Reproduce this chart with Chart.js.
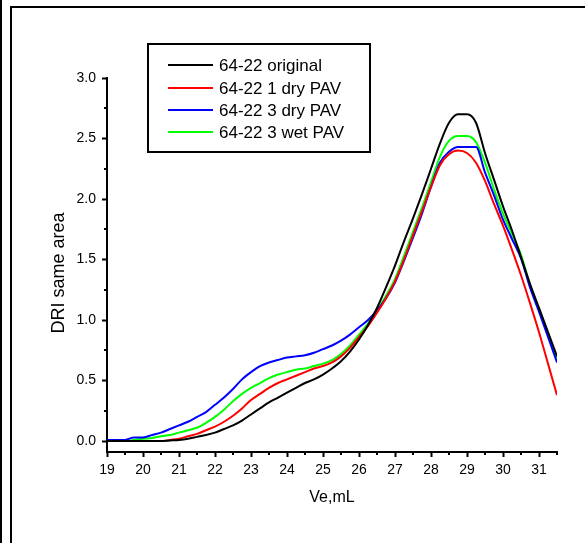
<!DOCTYPE html>
<html>
<head>
<meta charset="utf-8">
<script src="https://cdn.jsdelivr.net/npm/chart.js@4/dist/chart.umd.min.js"></script>
<style>
  html, body { margin: 0; padding: 0; background: #fff; }
  #wrap { width: 585px; height: 543px; position: relative; }
</style>
</head>
<body>
<div id="wrap"><canvas id="c" width="585" height="543"></canvas></div>
<script>
// Elution volume (mL)
const ve = [19, 19.25, 19.5, 19.75, 20, 20.25, 20.5, 20.75, 21, 21.25, 21.5, 21.75,
  22, 22.25, 22.5, 22.75, 23, 23.25, 23.5, 23.75, 24, 24.25, 24.5, 24.75,
  25, 25.25, 25.5, 25.75, 26, 26.25, 26.5, 26.75, 27, 27.25, 27.5, 27.75,
  28, 28.25, 28.5, 28.75, 29, 29.25, 29.5, 29.75, 30, 30.25, 30.5, 30.75,
  31, 31.25, 31.5];

const original = [0, 0, 0, 0, 0, 0, 0, 0.005, 0.01, 0.02, 0.035, 0.05,
  0.07, 0.1, 0.13, 0.17, 0.22, 0.27, 0.32, 0.36, 0.4, 0.44, 0.48, 0.51,
  0.55, 0.6, 0.66, 0.74, 0.84, 0.96, 1.1, 1.27, 1.45, 1.65, 1.84, 2.04,
  2.25, 2.46, 2.63, 2.7, 2.7, 2.63, 2.38, 2.16, 1.94, 1.74, 1.52, 1.3,
  1.1, 0.9, 0.7];

const dry1 = [0, 0, 0, 0, 0, 0, 0, 0.01, 0.02, 0.04, 0.06, 0.09,
  0.12, 0.16, 0.21, 0.27, 0.34, 0.39, 0.44, 0.48, 0.51, 0.54, 0.57, 0.6,
  0.62, 0.65, 0.7, 0.77, 0.86, 0.95, 1.06, 1.18, 1.32, 1.5, 1.7, 1.9,
  2.1, 2.28, 2.37, 2.4, 2.38, 2.3, 2.15, 1.96, 1.78, 1.58, 1.37, 1.14,
  0.9, 0.64, 0.38];

const dry3 = [0.01, 0.01, 0.01, 0.03, 0.03, 0.05, 0.07, 0.1, 0.13, 0.16, 0.2, 0.24,
  0.3, 0.36, 0.43, 0.51, 0.57, 0.62, 0.65, 0.67, 0.69, 0.7, 0.71, 0.73,
  0.76, 0.79, 0.83, 0.88, 0.94, 1.0, 1.08, 1.18, 1.31, 1.49, 1.68, 1.88,
  2.1, 2.3, 2.39, 2.43, 2.43, 2.43, 2.22, 2.03, 1.83, 1.67, 1.51, 1.27,
  1.07, 0.86, 0.65];

const wet3 = [0, 0, 0, 0.01, 0.02, 0.025, 0.04, 0.05, 0.07, 0.09, 0.11, 0.15,
  0.2, 0.26, 0.33, 0.39, 0.44, 0.48, 0.52, 0.55, 0.57, 0.59, 0.6, 0.62,
  0.64, 0.67, 0.72, 0.79, 0.88, 0.97, 1.08, 1.2, 1.34, 1.53, 1.73, 1.93,
  2.14, 2.35, 2.48, 2.52, 2.52, 2.47, 2.3, 2.08, 1.88, 1.71, 1.54, 1.29,
  1.09, 0.88, 0.68];

const seriesLabels = ['64-22 original', '64-22 1 dry PAV', '64-22 3 dry PAV', '64-22 3 wet PAV'];
const seriesColors = ['#000000', '#ff0000', '#0000ff', '#00ff00'];
const seriesValues = [original, dry1, dry3, wet3];

const xTicks = [19, 20, 21, 22, 23, 24, 25, 26, 27, 28, 29, 30, 31];
const yTicks = [0, 0.5, 1.0, 1.5, 2.0, 2.5, 3.0];
const yTitle = 'DRI same area';
const xTitle = 'Ve,mL';

const FONT = '"Liberation Sans", Arial, sans-serif';

const framePlugin = {
  id: 'frame',
  beforeDraw(chart) {
    const ctx = chart.ctx;
    ctx.save();
    ctx.fillStyle = '#fff';
    ctx.fillRect(0, 0, chart.width, chart.height);
    ctx.fillStyle = '#000';
    ctx.fillRect(0, 0, 2, chart.height);
    ctx.fillRect(10, 6, 2, chart.height - 6);
    ctx.fillRect(10, 6, chart.width - 10, 2);
    ctx.restore();
  }
};

const minorTicks = {
  id: 'minorTicks',
  afterDraw(chart) {
    const ctx = chart.ctx;
    const xs = chart.scales.x, ys = chart.scales.y;
    const ca = chart.chartArea;
    ctx.save();
    ctx.strokeStyle = '#000';
    ctx.lineWidth = 2;
    ctx.beginPath();
    for (let i = 0; i < xTicks.length; i++) {
      const v = xTicks[i] + 0.5;
      if (v > xs.max) break;
      const px = Math.round(xs.getPixelForValue(v));
      ctx.moveTo(px, ca.bottom);
      ctx.lineTo(px, ca.bottom + 3);
    }
    for (let i = 0; i < yTicks.length - 1; i++) {
      const v = yTicks[i] + 0.25;
      const py = Math.round(ys.getPixelForValue(v));
      ctx.moveTo(ca.left, py);
      ctx.lineTo(ca.left - 3, py);
    }
    ctx.stroke();
    // y axis title
    ctx.fillStyle = '#000';
    ctx.font = '18px ' + FONT;
    ctx.textAlign = 'center';
    ctx.textBaseline = 'middle';
    ctx.translate(59, 273);
    ctx.rotate(-Math.PI / 2);
    ctx.fillText(yTitle, 0, 0);
    ctx.restore();
  }
};

const boxLegend = {
  id: 'boxLegend',
  afterDraw(chart) {
    const ctx = chart.ctx;
    ctx.save();
    ctx.strokeStyle = '#000';
    ctx.lineWidth = 2;
    ctx.strokeRect(148, 44, 222, 108);
    const rows = [65, 88, 110, 132];
    ctx.font = '17px ' + FONT;
    ctx.textBaseline = 'middle';
    ctx.textAlign = 'left';
    chart.data.datasets.forEach((ds, i) => {
      const y = rows[i];
      ctx.strokeStyle = ds.borderColor;
      ctx.lineWidth = 2;
      ctx.beginPath();
      ctx.moveTo(168, y);
      ctx.lineTo(213, y);
      ctx.stroke();
      ctx.fillStyle = '#000';
      ctx.fillText(ds.label, 219, y + 1);
    });
    ctx.restore();
  }
};

const datasets = seriesLabels.map((label, s) => ({
  label: label,
  data: ve.map((x, i) => ({ x: x, y: seriesValues[s][i] })),
  borderColor: seriesColors[s],
  backgroundColor: seriesColors[s],
  borderWidth: 2,
  pointRadius: 0,
  fill: false,
  cubicInterpolationMode: 'monotone'
}));

new Chart(document.getElementById('c'), {
  type: 'line',
  data: { datasets: datasets },
  options: {
    responsive: false,
    animation: false,
    devicePixelRatio: 1,
    layout: { padding: { left: 0, right: 28, top: 78, bottom: 0 } },
    plugins: { legend: { display: false }, tooltip: { enabled: false } },
    scales: {
      x: {
        type: 'linear',
        min: 19,
        max: 31.5,
        afterBuildTicks(scale) { scale.ticks = xTicks.map(v => ({ value: v })); },
        afterFit(scale) { scale.height = 91; },
        border: { display: true, color: '#000', width: 2 },
        grid: { drawOnChartArea: false, drawTicks: true, tickLength: 5, tickWidth: 2, tickColor: '#000' },
        ticks: {
          color: '#000',
          font: { family: FONT, size: 14 },
          padding: 5,
          maxRotation: 0,
          autoSkip: false,
          callback: v => String(v)
        },
        title: {
          display: true,
          text: xTitle,
          color: '#000',
          font: { family: FONT, size: 16 },
          padding: { top: 0, bottom: 36 }
        }
      },
      y: {
        type: 'linear',
        min: -0.09,
        max: 3.0,
        afterBuildTicks(scale) { scale.ticks = yTicks.map(v => ({ value: v })); },
        afterFit(scale) { scale.width = 107; },
        border: { display: true, color: '#000', width: 2 },
        grid: { drawOnChartArea: false, drawTicks: true, tickLength: 5, tickWidth: 2, tickColor: '#000' },
        ticks: {
          color: '#000',
          font: { family: FONT, size: 14 },
          padding: 6,
          autoSkip: false,
          callback: v => Number(v).toFixed(1)
        },
        title: { display: false }
      }
    }
  },
  plugins: [framePlugin, minorTicks, boxLegend]
});
</script>
</body>
</html>
